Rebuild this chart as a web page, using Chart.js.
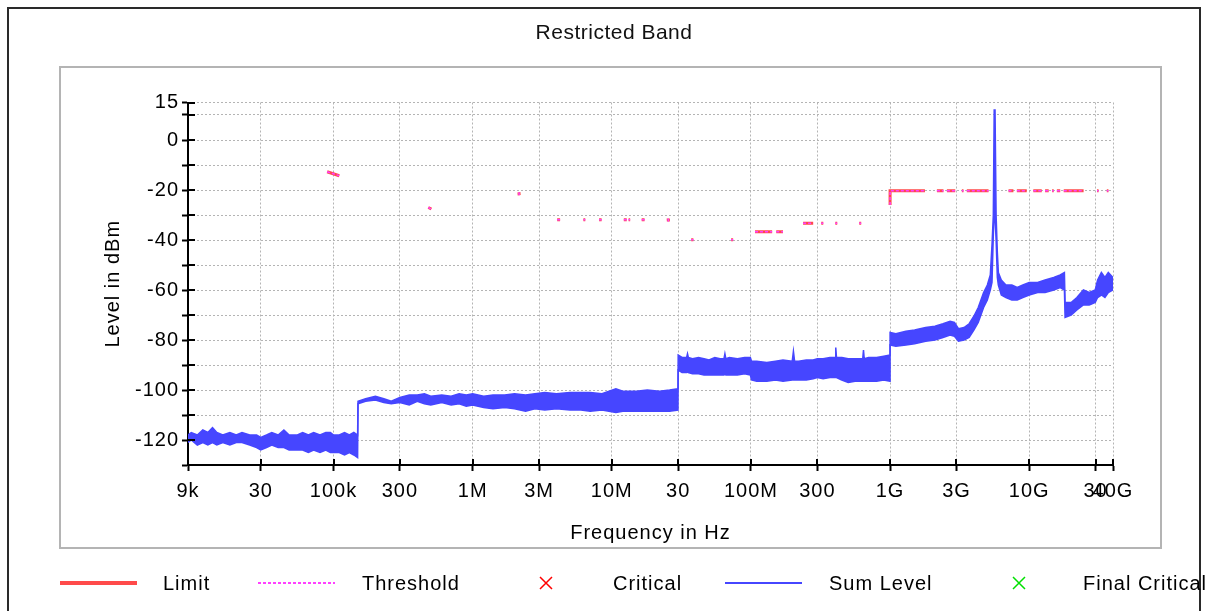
<!DOCTYPE html>
<html>
<head>
<meta charset="utf-8">
<title>Restricted Band</title>
<script src="https://cdn.jsdelivr.net/npm/chart.js@4.4.1/dist/chart.umd.min.js"></script>
<style>
	html, body { margin: 0; padding: 0; background: #fff; }
	#chart { display: block; }
</style>
</head>
<body>
<canvas id="chart" width="1209" height="611"></canvas>
<script>
!(function(){
	'use strict';

	// axis ticks
	var freqTicks  = [9e3, 3e4, 1e5, 3e5, 1e6, 3e6, 1e7, 3e7, 1e8, 3e8, 1e9, 3e9, 1e10, 3e10, 4e10];
	var freqLabels = ['9k', '30', '100k', '300', '1M', '3M', '10M', '30', '100M', '300', '1G', '3G', '10G', '30', '40G'];
	var levelTicks  = [-130, -120, -110, -100, -90, -80, -70, -60, -50, -40, -30, -20, -10, 0, 10, 15];
	var levelLabels = ['', '-120', '', '-100', '', '-80', '', '-60', '', '-40', '', '-20', '', '0', '', '15'];

	// sum level, upper and lower edge of the trace (Hz / dBm)
	var sumFreq = [
		9.0e3, 9.5e3, 10.5e3, 11.5e3, 12.5e3, 13.5e3, 14.5e3, 16e3, 18e3, 20e3, 22e3, 25e3, 28e3, 30e3, 33e3, 36e3,
		40e3, 44e3, 48e3, 55e3, 60e3, 66e3, 72e3, 80e3, 88e3, 95e3, 100e3, 110e3, 120e3, 130e3, 140e3, 149e3,
		150e3, 170e3, 200e3, 230e3, 260e3, 300e3, 350e3, 400e3, 450e3, 500e3, 600e3, 700e3, 800e3, 900e3,
		1.0e6, 1.2e6, 1.4e6, 1.7e6, 2.0e6, 2.4e6, 2.8e6, 3.3e6, 4.0e6, 5.0e6, 6.0e6, 7.0e6, 8.5e6, 10.7e6,
		12e6, 15e6, 18e6, 22e6, 26e6, 29.9e6,
		30e6, 32e6, 34.5e6, 35e6, 35.5e6, 38e6, 42e6, 46e6, 50e6, 55e6, 60e6, 64e6, 65e6, 66e6, 70e6, 80e6, 90e6, 99e6,
		101e6, 110e6, 130e6, 150e6, 170e6, 198e6, 202e6, 206e6, 220e6, 250e6, 280e6, 300e6, 330e6, 370e6,
		402e6, 407e6, 412e6, 450e6, 500e6, 560e6, 636e6, 644e6, 652e6, 700e6, 800e6, 900e6, 999e6,
		1.0e9, 1.1e9, 1.3e9, 1.5e9, 1.8e9, 2.1e9, 2.4e9, 2.7e9, 2.9e9, 3.1e9, 3.4e9, 3.7e9, 4.0e9, 4.3e9, 4.7e9,
		5.0e9, 5.25e9, 5.40e9, 5.52e9, 5.60e9, 5.68e9, 5.78e9, 5.90e9, 6.0e9, 6.3e9, 6.8e9, 7.5e9, 8.2e9, 9.0e9,
		10e9, 11.5e9, 13e9, 15e9, 16.7e9, 17.9e9, 18.1e9, 20e9, 22e9, 24.5e9, 27e9, 29.8e9, 31e9, 33e9, 35e9,
		37e9, 40e9
	];
	var sumMax = [
		-118, -117, -118, -116, -117, -115, -117, -118, -117, -118, -117, -118, -118, -119, -118, -117,
		-118, -116, -118, -118, -117, -118, -117, -118, -117, -117, -118, -118, -117, -118, -117, -118,
		-104.5, -103.5, -102.5, -103.5, -104.5, -103, -102, -102, -101.5, -102.5, -102, -102.5, -101.5, -102,
		-101.5, -102.5, -102, -102, -101.5, -102, -101.5, -101, -101.5, -101, -101, -101, -101.5, -99.5,
		-100.5, -100.5, -100, -100.5, -100, -99.5,
		-86, -87, -87, -85.5, -87, -87.5, -87, -87.5, -88, -87, -87.5, -87.5, -85.5, -87.5, -87, -87.5, -87, -87,
		-88.5, -88.5, -89, -88.5, -88, -88.5, -84.5, -88.5, -88.5, -88, -88, -87.5, -87.5, -87,
		-87, -83, -87, -87, -87.5, -87.5, -87.5, -84, -87.5, -87, -87, -86.5, -86,
		-77, -77.5, -76.5, -76, -75, -74.5, -73.5, -72.5, -73, -75.5, -75, -73.5, -70.5, -67, -61,
		-58, -54, -42, -30, 12, 12, -30, -45, -53, -56, -58, -58, -59, -58,
		-57, -57, -56, -55, -54, -53, -65, -65, -63, -60, -61, -60, -56, -53, -55,
		-53, -55
	];
	var sumMin = [
		-121, -120, -122, -121, -122, -121, -122, -121, -122, -121, -121, -122, -123, -124, -123, -122,
		-123, -123, -124, -124, -124, -125, -124, -125, -124, -125, -125, -125, -126, -125, -126, -127,
		-105.5, -104.5, -104, -105, -105.5, -105, -106, -104.5, -105.5, -106, -105, -106, -105.5, -106.5,
		-106, -107, -107.5, -107, -107.5, -108.5, -107.5, -108, -107.5, -108, -108, -108.5, -108, -109,
		-108.5, -108.5, -108.5, -108.5, -108.5, -108,
		-92, -93, -93, -92.5, -93, -93.5, -93.5, -94, -94, -94, -94, -94, -93.5, -94, -94, -94, -93.5, -94,
		-96, -96.5, -96.5, -96, -96.5, -96, -96, -96, -96, -96, -95.5, -95, -95.5, -95,
		-95, -95, -95, -96, -97, -96.5, -96.5, -96.5, -96.5, -96.5, -96.5, -96, -96.5,
		-82, -82.5, -82, -81.5, -80.5, -80, -79, -78, -78.5, -80.5, -80, -79, -76, -73, -67,
		-64, -60, -57, -38, -30, -30, -40, -55, -58, -62, -63, -64, -64, -63,
		-62, -61, -61, -60, -59, -60, -71, -70, -68, -66, -66, -65, -63, -62, -63,
		-61, -60
	];

	// limit and threshold marks, null breaks the line (Hz / dBm)
	var limitFreq = [
		90e3, 110e3, null, 480e3, 505e3, null, 2.15e6, 2.16e6, null,
		4.05e6, 4.25e6, null, 6.25e6, 6.45e6, null, 8.1e6, 8.45e6, null, 12.2e6, 12.8e6, null,
		13.2e6, 13.55e6, null, 16.4e6, 17.2e6, null, 25.4e6, 25.5e6, null,
		37.2e6, 38.6e6, null, 72e6, 74.5e6, null, 107e6, 142e6, null, 152e6, 170e6, null,
		237e6, 280e6, null, 320e6, 331e6, null, 404e6, 417e6, null, 600e6, 620e6, null,
		1e9, 1e9, 1.78e9, null, 2.17e9, 2.42e9, null, 2.56e9, 2.94e9, null, 3.28e9, 3.37e9, null,
		3.56e9, 5.10e9, null, 7.1e9, 7.7e9, null, 8.15e9, 9.6e9, null,
		10.7e9, 12.3e9, null, 13.0e9, 13.8e9, null, 14.6e9, 15.0e9, null, 15.8e9, 16.7e9, null,
		17.7e9, 24.6e9, null, 30.7e9, 31.5e9, null, 36.1e9, 37.1e9
	];
	var limitLevel = [
		-12.7, -14.3, null, -27, -27.6, null, -20.9, -22.1, null,
		-31.9, -31.9, null, -31.9, -31.9, null, -31.9, -31.9, null, -31.9, -31.9, null,
		-31.9, -31.9, null, -31.9, -31.9, null, -31.4, -32.6, null,
		-39.9, -39.9, null, -39.9, -39.9, null, -36.7, -36.7, null, -36.7, -36.7, null,
		-33.3, -33.3, null, -33.3, -33.3, null, -33.3, -33.3, null, -33.3, -33.3, null,
		-26, -20.3, -20.3, null, -20.3, -20.3, null, -20.3, -20.3, null, -20.3, -20.3, null,
		-20.3, -20.3, null, -20.3, -20.3, null, -20.3, -20.3, null,
		-20.3, -20.3, null, -20.3, -20.3, null, -20.3, -20.3, null, -20.3, -20.3, null,
		-20.3, -20.3, null, -20.3, -20.3, null, -20.3, -20.3
	];
	var thresholdFreq = limitFreq;
	var thresholdLevel = limitLevel;

	function toPoints(freqs, levels){
		var pts = [], last = freqs[0];
		for (var i = 0; i < freqs.length; i++) {
			if (freqs[i] === null) {
				pts.push({x: last, y: null});
				continue;
			}
			last = freqs[i];
			pts.push({x: freqs[i], y: levels[i]});
		}
		return pts;
	}

	var BLUE = '#4646ff';
	var FONT = '"Liberation Sans", Arial, sans-serif';
	Chart.defaults.font.family = FONT;
	Chart.defaults.color = '#000';

	// page frames and heading, drawn behind everything
	var framePlugin = {
		id: 'frames',
		beforeDraw: function(chart){
			var ctx = chart.ctx;
			ctx.save();
			ctx.fillStyle = '#fff';
			ctx.fillRect(0, 0, chart.width, chart.height);
			ctx.lineWidth = 2;
			ctx.strokeStyle = '#2a2a2a';
			ctx.strokeRect(8, 8, 1192, 700);
			ctx.strokeStyle = '#b4b4b4';
			ctx.strokeRect(60, 67, 1101, 481);
			ctx.letterSpacing = '0.5px';
			ctx.fillStyle = '#111';
			ctx.font = '21px ' + FONT;
			ctx.textAlign = 'center';
			ctx.textBaseline = 'middle';
			ctx.fillText('Restricted Band', 614, 33);
			ctx.restore();
			ctx.letterSpacing = '1px';
		}
	};

	// tick marks cross the axis lines
	var innerTicks = {
		id: 'innerTicks',
		afterDraw: function(chart){
			var ctx = chart.ctx, xs = chart.scales.x, ys = chart.scales.y;
			ctx.save();
			ctx.strokeStyle = '#000';
			ctx.lineWidth = 2;
			ctx.beginPath();
			xs.ticks.forEach(function(t){
				var px = Math.round(xs.getPixelForValue(t.value));
				ctx.moveTo(px, xs.top);
				ctx.lineTo(px, xs.top - 6);
			});
			ys.ticks.forEach(function(t){
				var py = Math.round(ys.getPixelForValue(t.value));
				ctx.moveTo(ys.right, py);
				ctx.lineTo(ys.right + 7, py);
			});
			ctx.stroke();
			ctx.restore();
		}
	};

	// legend row under the frame
	var legendRow = {
		id: 'legendRow',
		afterDraw: function(chart){
			var ctx = chart.ctx;
			var sampleX = [60, 258, 546, 725, 1019];
			var textX = [163, 362, 613, 829, 1083];
			var yMid = 583;
			var items = chart.data.datasets.filter(function(d){ return d.label; });
			ctx.save();
			items.forEach(function(d, i){
				ctx.strokeStyle = d.borderColor;
				if (d.pointStyle === 'crossRot') {
					ctx.lineWidth = 1.5;
					ctx.beginPath();
					ctx.moveTo(sampleX[i] - 6, yMid - 6); ctx.lineTo(sampleX[i] + 6, yMid + 6);
					ctx.moveTo(sampleX[i] + 6, yMid - 6); ctx.lineTo(sampleX[i] - 6, yMid + 6);
					ctx.stroke();
				} else {
					ctx.lineWidth = d.legendWidth;
					ctx.setLineDash(d.borderDash || []);
					ctx.beginPath();
					ctx.moveTo(sampleX[i], yMid);
					ctx.lineTo(sampleX[i] + 77, yMid);
					ctx.stroke();
					ctx.setLineDash([]);
				}
				ctx.fillStyle = '#000';
				ctx.font = '20px ' + FONT;
				ctx.textBaseline = 'middle';
				ctx.fillText(d.label, textX[i], yMid + 1);
			});
			ctx.restore();
		}
	};

	var ctx = document.getElementById('chart').getContext('2d');
	var myChart = new Chart(ctx, {
		type: 'line',
		data: {
			datasets: [{
				label: 'Limit',
				data: toPoints(limitFreq, limitLevel),
				borderColor: '#ff4a4a',
				borderWidth: 3,
				legendWidth: 4,
				pointRadius: 0,
				spanGaps: false,
				order: 2
			}, {
				label: 'Threshold',
				data: toPoints(thresholdFreq, thresholdLevel),
				borderColor: '#ff40ff',
				borderWidth: 1.5,
				borderDash: [3, 2],
				legendWidth: 2,
				pointRadius: 0,
				spanGaps: false,
				order: 1
			}, {
				label: 'Critical',
				data: [],
				borderColor: '#ff0000',
				pointStyle: 'crossRot',
				showLine: false
			}, {
				label: 'Sum Level',
				data: toPoints(sumFreq, sumMax),
				borderColor: BLUE,
				backgroundColor: BLUE,
				borderWidth: 1.5,
				legendWidth: 2,
				fill: '+1',
				pointRadius: 0,
				tension: 0,
				order: 0
			}, {
				label: '',
				data: toPoints(sumFreq, sumMin),
				borderColor: BLUE,
				borderWidth: 1.5,
				fill: false,
				pointRadius: 0,
				tension: 0,
				order: 0
			}, {
				label: 'Final Critical',
				data: [],
				borderColor: '#00e000',
				pointStyle: 'crossRot',
				showLine: false
			}]
		},
		options: {
			responsive: false,
			animation: false,
			devicePixelRatio: 1,
			layout: { padding: { left: 0, right: 96, top: 102.5, bottom: 0 } },
			plugins: {
				legend: { display: false },
				tooltip: { enabled: false },
				title: { display: false }
			},
			scales: {
				x: {
					type: 'logarithmic',
					min: 9e3,
					max: 4e10,
					afterBuildTicks: function(scale){
						scale.ticks = freqTicks.map(function(v){ return {value: v}; });
					},
					afterFit: function(scale){ scale.height = 146; },
					ticks: {
						autoSkip: false,
						maxRotation: 0,
						padding: 8,
						font: { size: 20 },
						callback: function(v){ return freqLabels[freqTicks.indexOf(v)]; }
					},
					grid: { color: '#b4b4b4', lineWidth: 1, tickLength: 6, tickColor: '#000', tickWidth: 2 },
					border: { color: '#000', width: 2, dash: [2, 2] },
					title: {
						display: true,
						text: 'Frequency in Hz',
						font: { size: 20 },
						padding: { top: 0, bottom: 66 }
					}
				},
				y: {
					min: -130,
					max: 15,
					afterBuildTicks: function(scale){
						scale.ticks = levelTicks.map(function(v){ return {value: v}; });
					},
					afterFit: function(scale){ scale.width = 188; },
					ticks: {
						autoSkip: false,
						padding: 3,
						font: { size: 20 },
						callback: function(v){ return levelLabels[levelTicks.indexOf(v)]; }
					},
					grid: { color: '#b4b4b4', lineWidth: 1, tickLength: 6, tickColor: '#000', tickWidth: 2 },
					border: { color: '#000', width: 2, dash: [2, 2] },
					title: {
						display: true,
						text: 'Level in dBm',
						font: { size: 20 },
						padding: { top: 101, bottom: 0 }
					}
				}
			}
		},
		plugins: [framePlugin, innerTicks, legendRow]
	});
})();
</script>
</body>
</html>
